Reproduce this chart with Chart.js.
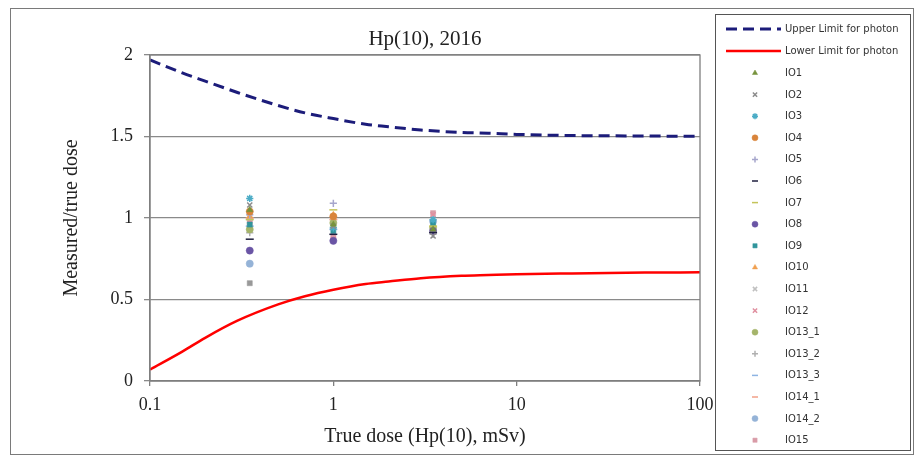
<!DOCTYPE html>
<html>
<head>
<meta charset="utf-8">
<script src="https://cdn.jsdelivr.net/npm/chart.js@4/dist/chart.umd.min.js"></script>
<style>
  html, body { margin: 0; padding: 0; background: #fff; }
  #wrap { width: 914px; height: 458px; }
</style>
</head>
<body>
<div id="wrap"><canvas id="c" width="914" height="458"></canvas></div>
<script>
// ---- Data ----
const chartTitle = 'Hp(10), 2016';
const xAxisTitle = 'True dose (Hp(10), mSv)';
const yAxisTitle = 'Measured/true dose';
const xTickValues = [0.1, 1, 10, 100];
const xTickLabels = ['0.1', '1', '10', '100'];
const yTickLabels = ['0', '0.5', '1', '1.5', '2'];

// Limit curves (trumpet curve)
const limitDoses  = [0.1, 0.15, 0.2, 0.3, 0.5, 0.7, 1, 1.5, 2, 3, 5, 7, 10, 20, 50, 100];
const upperLimit  = [1.97, 1.89, 1.84, 1.77, 1.69, 1.645, 1.61, 1.575, 1.56, 1.54, 1.525, 1.52, 1.513, 1.506, 1.503, 1.501];
const lowerLimit  = [0.07, 0.18, 0.265, 0.37, 0.47, 0.52, 0.56, 0.595, 0.61, 0.63, 0.645, 0.65, 0.655, 0.66, 0.665, 0.667];

// Irradiation doses of participants
const doses = [0.35, 1, 3.5];
const io1   = [1.05, 0.96, 0.93];
const io2   = [1.08, 0.95, 0.89];
const io3   = [1.12, 0.94, 0.99];
const io4   = [1.04, 1.01, null];
const io5   = [1.02, 1.09, null];
const io6   = [0.87, 0.90, 0.91];
const io7   = [0.99, 1.05, 0.95];
const io8   = [0.80, 0.86, 0.92];
const io9   = [0.96, 0.92, 0.97];
const io10  = [1.01, 1.02, null];
const io11  = [1.00, null, null];
const io12  = [0.97, 0.87, 1.02];
const io13_1 = [0.93, 0.97, 0.94];
const io13_2 = [0.91, null, 0.90];
const io13_3 = [0.95, 0.93, null];
const io14_1 = [1.00, 0.99, null];
const io14_2 = [0.72, null, 0.98];
const io15  = [0.98, 0.88, 1.03];
const io16  = [0.60, null, null];

const seriesNames = ['IO1','IO2','IO3','IO4','IO5','IO6','IO7','IO8','IO9','IO10','IO11','IO12','IO13_1','IO13_2','IO13_3','IO14_1','IO14_2','IO15','IO16'];
const seriesValues = [io1,io2,io3,io4,io5,io6,io7,io8,io9,io10,io11,io12,io13_1,io13_2,io13_3,io14_1,io14_2,io15,io16];
const seriesColors = ['#77933C','#8C8C8C','#4BACC6','#D9843B','#A6A6CC','#1F1F3F','#C4C45A','#6A55A5','#31959C','#F0A050','#C0C0C0','#E090A0','#A5B46A','#B0B0B0','#8EB4E3','#F2A088','#95B3D7','#D99CA8','#999999'];
const seriesStyles = ['triangle','crossRot','star','circle','cross','line','line','circle','rect','triangle','crossRot','crossRot','circle','cross','line','line','circle','rect','rect'];
const legendHidden = ['IO16'];

// ---- Build datasets ----
const datasets = [
  {
    label: 'Upper Limit for photon', type: 'line',
    data: limitDoses.map((d, i) => ({x: d, y: upperLimit[i]})),
    borderColor: '#1C1C7A', borderWidth: 3, borderDash: [11, 6],
    pointRadius: 0, showLine: true, fill: false, cubicInterpolationMode: 'monotone'
  },
  {
    label: 'Lower Limit for photon', type: 'line',
    data: limitDoses.map((d, i) => ({x: d, y: lowerLimit[i]})),
    borderColor: '#FF0000', borderWidth: 2.5,
    pointRadius: 0, showLine: true, fill: false, cubicInterpolationMode: 'monotone'
  }
];
seriesNames.forEach((name, s) => {
  const pts = [];
  doses.forEach((d, i) => { if (seriesValues[s][i] != null) pts.push({x: d, y: seriesValues[s][i]}); });
  const st = seriesStyles[s];
  const filled = (st === 'circle' || st === 'rect' || st === 'triangle');
  datasets.push({
    label: name, type: 'scatter', data: pts, showLine: false,
    pointStyle: st,
    pointRadius: st === 'line' ? 4 : 3.6,
    pointBackgroundColor: seriesColors[s],
    pointBorderColor: seriesColors[s],
    pointBorderWidth: filled ? 0.5 : 1.5,
    backgroundColor: seriesColors[s], borderColor: seriesColors[s]
  });
});

// ---- Plugins ----
const SERIF = '"Liberation Serif", "Times New Roman", serif';
const framePlugin = {
  id: 'frame',
  beforeDraw(chart) {
    const ctx = chart.ctx;
    ctx.save();
    ctx.fillStyle = '#fff';
    ctx.fillRect(0, 0, chart.width, chart.height);
    ctx.strokeStyle = '#7a7a7a';
    ctx.lineWidth = 1;
    ctx.strokeRect(10.5, 8.5, 903, 446);
    ctx.restore();
  },
  afterDatasetsDraw(chart) {
    const a = chart.chartArea, ctx = chart.ctx;
    ctx.save();
    ctx.strokeStyle = '#7f7f7f';
    ctx.lineWidth = 1.3;
    ctx.strokeRect(a.left, a.top, a.right - a.left, a.bottom - a.top);
    // title
    ctx.fillStyle = '#222';
    ctx.font = '21px ' + SERIF;
    ctx.textAlign = 'center';
    ctx.textBaseline = 'middle';
    ctx.fillText(chartTitle, (a.left + a.right) / 2, 39);
    ctx.restore();
  }
};

const legendPlugin = {
  id: 'boxLegend',
  afterDraw(chart) {
    const ctx = chart.ctx;
    const bx = 715.5, by = 14.5, bw = 195, bh = 436;
    ctx.save();
    ctx.fillStyle = '#fff';
    ctx.fillRect(bx, by, bw, bh);
    ctx.strokeStyle = '#555';
    ctx.lineWidth = 1;
    ctx.strokeRect(bx, by, bw, bh);
    ctx.font = '10px "DejaVu Sans", "Liberation Sans", sans-serif';
    ctx.textBaseline = 'middle';
    ctx.textAlign = 'left';
    let k = 0;
    chart.data.datasets.forEach((ds, i) => {
      if (legendHidden.includes(ds.label)) return;
      let y;
      if (i === 0) y = 29; else if (i === 1) y = 51; else { y = 73 + k * 21.6; k++; }
      if (ds.type === 'line') {
        ctx.save();
        ctx.strokeStyle = ds.borderColor;
        ctx.lineWidth = ds.borderWidth;
        ctx.setLineDash(ds.borderDash || []);
        ctx.beginPath();
        ctx.moveTo(726, y); ctx.lineTo(781, y);
        ctx.stroke();
        ctx.restore();
      } else {
        ctx.save();
        ctx.fillStyle = ds.pointBackgroundColor;
        ctx.strokeStyle = ds.pointBorderColor;
        ctx.lineWidth = ds.pointBorderWidth;
        Chart.helpers.drawPoint(ctx, {pointStyle: ds.pointStyle, radius: 3, rotation: 0, borderWidth: ds.pointBorderWidth}, 755, y);
        ctx.restore();
      }
      ctx.fillStyle = '#333';
      ctx.fillText(ds.label, 785, y + 0.5);
    });
    ctx.restore();
  }
};

new Chart(document.getElementById('c'), {
  type: 'scatter',
  data: { datasets },
  options: {
    responsive: false,
    animation: false,
    devicePixelRatio: 1,
    layout: { padding: { top: 55, right: 214, left: 0, bottom: 0 } },
    plugins: { legend: { display: false }, title: { display: false }, tooltip: { enabled: false } },
    scales: {
      x: {
        type: 'logarithmic', min: 0.1, max: 100,
        afterBuildTicks(scale) { scale.ticks = xTickValues.map(v => ({value: v})); },
        afterFit(scale) { scale.height = 77; },
        ticks: {
          autoSkip: false, maxRotation: 0, padding: 8,
          color: '#222', font: { family: SERIF, size: 18 },
          callback(value) { const i = xTickValues.indexOf(value); return i >= 0 ? xTickLabels[i] : ''; }
        },
        grid: { drawOnChartArea: false, drawTicks: true, tickLength: 5, color: '#7f7f7f', lineWidth: 1.3 },
        border: { display: true, color: '#7f7f7f', width: 1.3 },
        title: { display: true, text: xAxisTitle, color: '#222', font: { family: SERIF, size: 20 }, padding: { top: 0, bottom: 9 } }
      },
      y: {
        min: 0, max: 2,
        afterFit(scale) { scale.width = 150; },
        ticks: {
          stepSize: 0.5, padding: 11, color: '#222', font: { family: SERIF, size: 18 },
          callback(value) { const i = Math.round(value / 0.5); return yTickLabels[i] ?? ''; }
        },
        grid: { drawOnChartArea: true, drawTicks: true, tickLength: 6, color: '#8a8a8a', lineWidth: 1.3 },
        border: { display: true, color: '#7f7f7f', width: 1.3 },
        title: { display: true, text: yAxisTitle, color: '#222', font: { family: SERIF, size: 20 }, padding: { top: 60, bottom: 0 } }
      }
    }
  },
  plugins: [framePlugin, legendPlugin]
});
</script>
</body>
</html>
